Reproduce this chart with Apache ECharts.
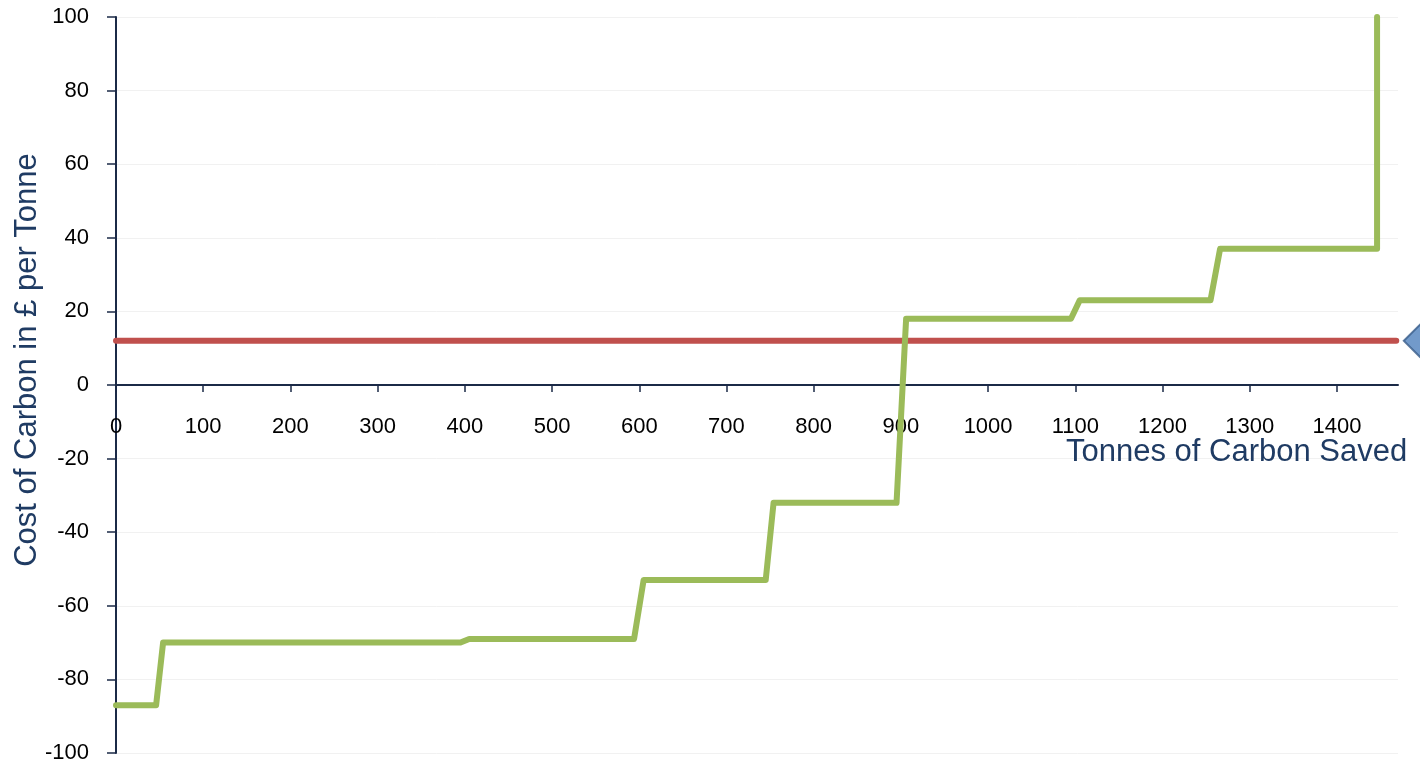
<!DOCTYPE html>
<html>
<head>
<meta charset="utf-8">
<title>Marginal Abatement Cost Curve</title>
<script src="https://cdn.jsdelivr.net/npm/echarts@6/dist/echarts.min.js"></script>
<style>
  html, body { margin: 0; padding: 0; background: #ffffff; }
  #chart { width: 1420px; height: 765px; }
</style>
</head>
<body>
<div id="chart"></div>
<script>
// Cumulative tonnes saved (x) and cost per tonne (y) of the abatement step curve
const curveTonnes = [0, 46, 54, 395, 405, 594, 605, 745, 754, 895, 906, 1095, 1105, 1255, 1266, 1446, 1446];
const curveCost   = [-87, -87, -70, -70, -69, -69, -53, -53, -32, -32, 18, 18, 23, 23, 37, 37, 100];

// Flat carbon price reference line
const priceTonnes = [0, 1468];
const priceCost   = [12, 12];

// Marker sitting past the right end of the price line
const markerTonnes = [1495];
const markerCost   = [12];

// Axis tick values
const xTicks = [0, 100, 200, 300, 400, 500, 600, 700, 800, 900, 1000, 1100, 1200, 1300, 1400];
const yTicks = [-100, -80, -60, -40, -20, 0, 20, 40, 60, 80, 100];

const axisColor = '#1B2A47';
const nameColor = '#1F3B63';
const fontFamily = '"Liberation Sans", Arial, sans-serif';

const GRID_TOP = 17;
const GRID_BOTTOM = 12;
const CHART_H = 765;

const pair = (xs, ys) => xs.map((x, i) => [x, ys[i]]);

const chart = echarts.init(document.getElementById('chart'), null, { renderer: 'canvas' });

// The x axis is drawn through y = 0, which sits halfway down the plot
const plotHeight = CHART_H - GRID_TOP - GRID_BOTTOM;
const zeroOffset = -plotHeight / 2;

chart.setOption({
  animation: false,
  backgroundColor: '#ffffff',
  grid: {
    left: 116, right: 22, top: GRID_TOP, bottom: GRID_BOTTOM,
    containLabel: false, outerBoundsMode: 'none'
  },
  xAxis: {
    type: 'value',
    position: 'bottom',
    offset: zeroOffset,
    min: 0,
    max: 1470,
    interval: 100,
    axisLine: { onZero: false, lineStyle: { color: axisColor, width: 2 } },
    axisTick: {
      show: true, inside: false, length: 7, customValues: xTicks,
      lineStyle: { color: axisColor, width: 1.5 }
    },
    axisLabel: {
      customValues: xTicks,
      formatter: (v) => String(v),
      margin: 31,
      color: '#000000',
      fontSize: 22,
      fontFamily: fontFamily
    },
    splitLine: { show: false }
  },
  yAxis: {
    type: 'value',
    min: -100,
    max: 100,
    interval: 20,
    axisLine: { lineStyle: { color: axisColor, width: 2 } },
    axisTick: { show: true, length: 9, lineStyle: { color: axisColor, width: 1.5 } },
    axisLabel: {
      customValues: yTicks,
      formatter: (v) => String(v),
      margin: 27,
      color: '#000000',
      fontSize: 22,
      fontFamily: fontFamily
    },
    splitLine: { show: true, lineStyle: { color: '#f1f1f1', width: 1 } }
  },
  series: [
    {
      name: 'Carbon price',
      type: 'line',
      data: pair(priceTonnes, priceCost),
      symbol: 'none',
      lineStyle: { color: '#C0504D', width: 6, cap: 'round' },
      z: 3
    },
    {
      name: 'Abatement cost',
      type: 'line',
      data: pair(curveTonnes, curveCost),
      symbol: 'none',
      lineStyle: { color: '#9BBB59', width: 6, join: 'round', cap: 'round' },
      z: 4
    },
    {
      name: 'Price marker',
      type: 'scatter',
      data: pair(markerTonnes, markerCost),
      symbol: 'diamond',
      symbolSize: [32, 32],
      clip: false,
      itemStyle: { color: '#4F81BD', borderColor: '#385D8A', borderWidth: 2 },
      z: 5
    }
  ],
  graphic: [
    {
      type: 'text',
      z: 100,
      left: 1066,
      top: 437,
      style: {
        text: 'Tonnes of Carbon Saved',
        fill: nameColor,
        font: '31px ' + fontFamily
      }
    },
    {
      type: 'text',
      z: 100,
      x: 27,
      y: 360,
      rotation: Math.PI / 2,
      style: {
        text: 'Cost of Carbon in £ per Tonne',
        fill: nameColor,
        font: '31px ' + fontFamily,
        align: 'center',
        verticalAlign: 'middle'
      }
    }
  ]
});
</script>
</body>
</html>
